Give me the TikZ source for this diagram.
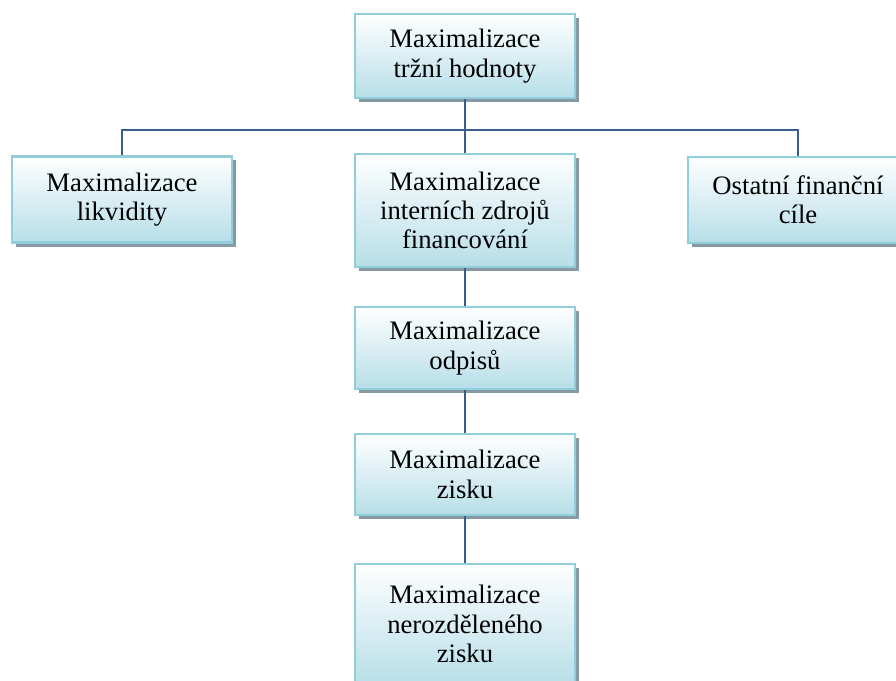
\documentclass[tikz,border=0pt]{standalone}
\usepackage{fontspec}
\setmainfont{Liberation Serif}
\usetikzlibrary{shadows}
\definecolor{ramecek}{RGB}{146,205,220}
\definecolor{vypln}{RGB}{183,222,232}
\definecolor{stin}{RGB}{134,154,164}
\definecolor{spojnice}{RGB}{56,93,138}
\begin{document}
\begin{tikzpicture}[x=0.75pt,y=-0.75pt,
		cil/.style={draw=ramecek,line width=1.8pt,top color=white,bottom color=vypln,minimum width=165pt,align=center,inner sep=0pt,font=\fontsize{20}{22}\selectfont,drop shadow={shadow xshift=3pt,shadow yshift=-3pt,fill=stin,opacity=1}},
		spoj/.style={draw=spojnice,line width=1.5pt}]
			\path[use as bounding box,clip] (0,0) rectangle (896,681);
			\node[cil,minimum height=63pt] (trzni) at (465,56) {Maximalizace\\tržní hodnoty};
			\node[cil,minimum height=64.5pt] (likvidita) at (122,199.5) {Maximalizace\\likvidity};
			\node[cil,minimum height=85pt] (zdroje) at (465,210.5) {Maximalizace\\interních zdrojů\\financování};
			\node[cil,minimum height=64.5pt] (ostatni) at (798,200) {Ostatní finanční\\cíle};
			\node[cil,minimum height=61.5pt] (odpisy) at (465,348) {Maximalizace\\odpisů};
			\node[cil,minimum height=61pt] (zisk) at (465,474.5) {Maximalizace\\zisku};
			\node[cil,minimum height=90pt] (nerozd) at (465,624) {Maximalizace\\nerozděleného\\zisku};
			\coordinate (sbernice) at (465,130);
			\draw[spoj] (trzni.south) -- (zdroje.north);
			\draw[spoj] (likvidita.north) -- (likvidita.north |- sbernice) -- (ostatni.north |- sbernice) -- (ostatni.north);
			\draw[spoj] (zdroje.south) -- (odpisy.north);
			\draw[spoj] (odpisy.south) -- (zisk.north);
			\draw[spoj] (zisk.south) -- (nerozd.north);
	\end{tikzpicture}
\end{document}
